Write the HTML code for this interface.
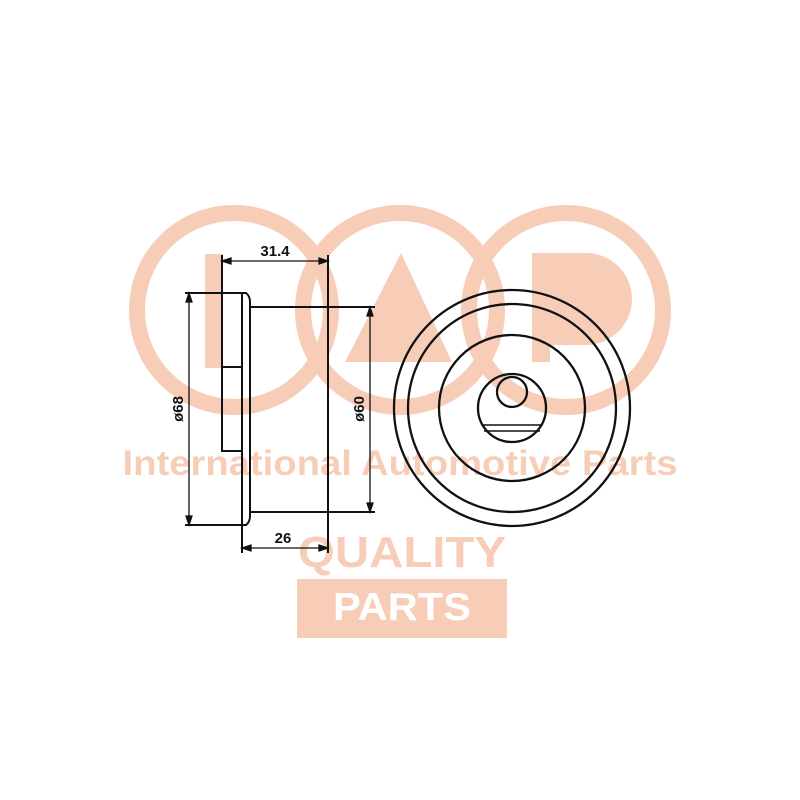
<!DOCTYPE html>
<html><head><meta charset="utf-8"><style>
html,body{margin:0;padding:0;background:#fff}
svg{display:block}
</style></head><body>
<svg width="800" height="800" viewBox="0 0 800 800" xmlns="http://www.w3.org/2000/svg">
<g fill="none" stroke="#f7cdb8" stroke-width="16">
<circle cx="234" cy="310" r="97"/>
<circle cx="400" cy="310" r="97"/>
<circle cx="566" cy="310" r="97"/>
</g>
<g fill="#f7cdb8">
<rect x="205" y="254" width="18" height="114"/>
<polygon points="401,253 345,362 452,362"/>
<path d="M532 253 H586 A46 46 0 0 1 586 345 H550 V362 H532 Z"/>
<text x="400" y="475" font-family="Liberation Sans, sans-serif" font-weight="bold" font-size="35" text-anchor="middle" textLength="555" lengthAdjust="spacingAndGlyphs">International Automotive Parts</text>
<text x="402" y="567" font-family="Liberation Sans, sans-serif" font-weight="bold" font-size="44" text-anchor="middle" textLength="208" lengthAdjust="spacingAndGlyphs">QUALITY</text>
<rect x="297" y="579" width="210" height="59"/>
</g>
<text x="402" y="620" fill="#fff" font-family="Liberation Sans, sans-serif" font-weight="bold" font-size="39" text-anchor="middle" textLength="138" lengthAdjust="spacingAndGlyphs">PARTS</text>
<g fill="none" stroke="#111" stroke-width="2">
<path d="M242 293 H246 Q250 296 250 302 V516 Q250 522 246 525 H242 Z"/>
<path d="M250 307 H328 V512 H250"/>
<rect x="222" y="367" width="20" height="84"/>
<path d="M222 255 V367"/>
<path d="M328 255 V307"/>
<path d="M242 525 V553 M328 512 V553"/>
<path d="M185 293 H242 M185 525 H242"/>
<path d="M328 307 H375 M328 512 H375"/>
</g>
<g stroke="#111" stroke-width="1.3" fill="#111">
<path d="M189 293 V525 M370 307 V512 M222 261 H328 M242 548 H328"/>
<polygon points="189,293 186,302 192,302"/>
<polygon points="189,525 186,516 192,516"/>
<polygon points="370,307 367,316 373,316"/>
<polygon points="370,512 367,503 373,503"/>
<polygon points="222,261 231,258 231,264"/>
<polygon points="328,261 319,258 319,264"/>
<polygon points="242,548 251,545 251,551"/>
<polygon points="328,548 319,545 319,551"/>
</g>
<g font-family="Liberation Sans, sans-serif" font-size="15" font-weight="bold" fill="#111">
<text x="275" y="256" text-anchor="middle">31.4</text>
<text x="283" y="543" text-anchor="middle">26</text>
<text transform="translate(183 409) rotate(-90)" text-anchor="middle">ø68</text>
<text transform="translate(364 409) rotate(-90)" text-anchor="middle">ø60</text>
</g>
<g fill="none" stroke="#111" stroke-width="2.3">
<circle cx="512" cy="408" r="118"/>
<circle cx="512" cy="408" r="104"/>
<circle cx="512" cy="408" r="73"/>
<circle cx="512" cy="408" r="34"/>
<circle cx="512" cy="392" r="15"/>
<path d="M482 425 H542 M484 431 H540" stroke-width="1.6"/>
</g>
</svg>
</body></html>
